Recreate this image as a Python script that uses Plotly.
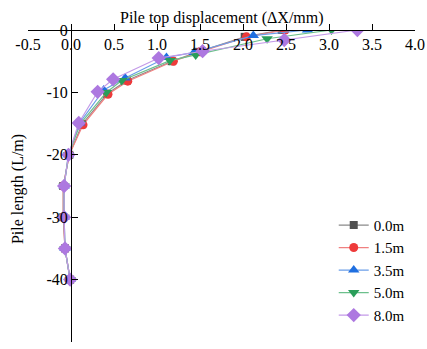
import plotly.graph_objects as go

names = ["0.0m", "1.5m", "3.5m", "5.0m", "8.0m"]

x_00 = [2.45, 2.02, 1.48, 1.17, 0.65, 0.42, 0.13, -0.02, -0.09, -0.09, -0.07, -0.01]
y_00 = [0, -1.1, -3.5, -5.0, -8.1, -10.2, -15.1, -20, -25, -30, -35, -40]
x_15 = [2.49, 2.04, 1.50, 1.19, 0.66, 0.43, 0.14, -0.02, -0.09, -0.09, -0.07, -0.01]
y_15 = [0, -1.1, -3.5, -5.0, -8.2, -10.3, -15.2, -20, -25, -30, -35, -40]
x_35 = [2.75, 2.12, 1.43, 1.11, 0.63, 0.38, 0.10, -0.03, -0.08, -0.08, -0.07, -0.01]
y_35 = [0, -0.9, -3.6, -4.4, -7.7, -9.6, -14.9, -20, -25, -30, -35, -40]
x_50 = [3.03, 2.28, 1.45, 1.15, 0.59, 0.41, 0.11, -0.03, -0.08, -0.08, -0.07, -0.01]
y_50 = [0, -1.4, -4.0, -4.9, -8.1, -10.0, -15.0, -20, -25, -30, -35, -40]
x_80 = [3.33, 2.48, 1.53, 1.02, 0.49, 0.31, 0.09, -0.03, -0.08, -0.08, -0.07, -0.01]
y_80 = [0, -1.6, -3.4, -4.5, -7.9, -9.9, -14.9, -20, -25, -30, -35, -40]

x_ticks = [-0.5, 0.0, 0.5, 1.0, 1.5, 2.0, 2.5, 3.0, 3.5, 4.0]
x_ticktext = ["-0.5", "0.0", "0.5", "1.0", "1.5", "2.0", "2.5", "3.0", "3.5", "4.0"]
y_ticks = [0, -10, -20, -30, -40, -50]
y_ticktext = ["0", "-10", "-20", "-30", "-40", "-50"]

xs = [x_00, x_15, x_35, x_50, x_80]
ys = [y_00, y_15, y_35, y_50, y_80]
line_colors = ["#8a8a8a", "#f08080", "#6a9ee8", "#6cc08c", "#c39ae8"]
marker_colors = ["#505050", "#ee3a3a", "#1f6fe0", "#2a9e5a", "#ad78e0"]
symbols = ["square", "circle", "triangle-up", "triangle-down", "diamond"]
sizes = [8, 9, 10, 10, 11]

FONT = "Liberation Serif, Times New Roman, serif"

fig = go.Figure()
for i in range(5):
    fig.add_trace(go.Scatter(
        x=xs[i], y=ys[i], name=names[i], mode="lines+markers",
        line=dict(color=line_colors[i], width=1.2),
        marker=dict(symbol=symbols[i], size=sizes[i], color=marker_colors[i], line=dict(width=0)),
    ))

fig.update_layout(
    width=427, height=349,
    margin=dict(l=28, r=12, t=30, b=7),
    paper_bgcolor="white", plot_bgcolor="white",
    font=dict(family=FONT, size=16, color="black"),
    showlegend=True,
    legend=dict(x=0.79, y=0.427, xanchor="left", yanchor="top",
                bgcolor="rgba(0,0,0,0)", font=dict(size=15, family=FONT),
                tracegroupgap=0, itemsizing="trace"),
    xaxis=dict(range=[-0.5, 4.0], side="bottom", anchor="free", position=1,
               showline=True, linecolor="black", linewidth=1,
               ticks="inside", ticklen=6, tickcolor="black",
               tickvals=x_ticks, ticktext=x_ticktext, automargin=False,
               showgrid=False, zeroline=False, tickfont=dict(size=16, family=FONT)),
    yaxis=dict(range=[-50, 0], anchor="free", position=0.5 / 4.5, showline=True,
               linecolor="black", linewidth=1, ticks="inside", ticklen=6, tickcolor="black",
               tickvals=y_ticks, ticktext=y_ticktext, showgrid=False, zeroline=False,
               automargin=False, tickfont=dict(size=16, family=FONT)),
    annotations=[
        dict(text="Pile top displacement (ΔX/mm)", x=0.5, y=1, xref="paper", yref="paper",
             xanchor="center", yanchor="bottom", yshift=1, showarrow=False,
             font=dict(size=16, family=FONT)),
        dict(text="Pile length (L/m)", x=-0.026, y=0.49, xref="paper", yref="paper",
             xanchor="center", yanchor="middle", textangle=-90, showarrow=False,
             font=dict(size=16, family=FONT)),
    ],
)

fig.write_html("out.html", config={"displayModeBar": False},
               post_script="document.body.style.margin='0';")
